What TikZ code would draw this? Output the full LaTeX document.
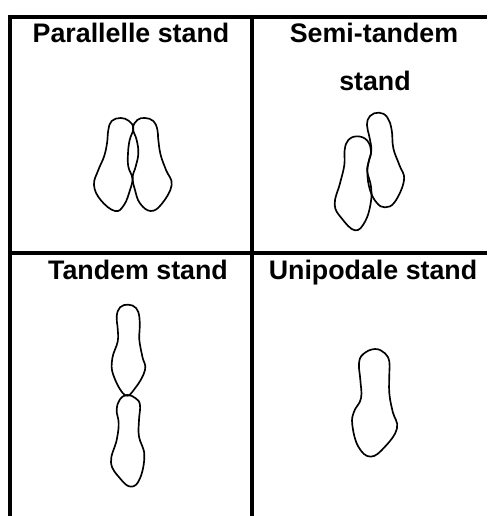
\documentclass[tikz,border=0pt]{standalone}
\usepackage{fontspec}
\setmainfont{Liberation Sans}
\tikzset{
  rule/.style={line width=3pt,black,line cap=butt},
  label/.style={anchor=base,inner sep=0pt,font=\fontsize{20.1pt}{22pt}\selectfont\bfseries},
  footline/.style={line width=1.25pt,black,line join=round},
  crop/.style 2 args={x=.25pt,y=-.25pt,shift={({#1*.75pt},{-#2*.75pt})}}
}
\begin{document}
\begin{tikzpicture}[x=.75pt,y=-.75pt]
\useasboundingbox (0,0) rectangle (487,516);
% table rules
\draw[rule] (8,17) -- (487,17);
\draw[rule] (8,253) -- (487,253);
\draw[rule] (10,15) -- (10,516);
\draw[rule] (252,15) -- (252,516);
% labels
\node[label] (t1) at (131,43) {Parallelle stand};
\node[label] (t2) at (374,43) {Semi-tandem};
\node[label] (t2b) at (375,91) {stand};
\node[label] (t3) at (138,279) {Tandem stand};
\node[label] (t4) at (373,279) {Unipodale stand};
% parallel stand
\begin{scope}[crop={60}{90}]
\draw[footline] plot[smooth cycle,tension=.7] coordinates {(182,84)(155,93)(145,120)(141,160)(132,200)(115,240)(102,285)(122,330)(165,363)(192,345)(210,300)(217,265)(205,230)(204,190)(209,150)(220,115)(207,93)};
\draw[footline] plot[smooth cycle,tension=.7] coordinates {(255,84)(232,90)(219,115)(230,150)(235,190)(227,230)(218,262)(225,300)(240,340)(272,363)(305,342)(335,285)(318,240)(302,195)(295,150)(292,118)(280,93)};
\end{scope}
% semi-tandem stand
\begin{scope}[crop={310}{90}]
\draw[footline] plot[smooth cycle,tension=.7] coordinates {(143,139)(115,150)(104,180)(103,225)(90,280)(74,343)(95,385)(135,421)(165,395)(182,340)(183,290)(172,245)(176,215)(183,185)(172,152)};
\draw[footline] plot[smooth cycle,tension=.7] coordinates {(207,68)(180,78)(171,105)(178,140)(184,180)(176,215)(172,250)(180,300)(200,338)(225,352)(255,335)(282,270)(268,225)(250,175)(245,120)(232,82)};
\end{scope}
% tandem stand
\begin{scope}[crop={70}{290}]
\draw[footline] plot[smooth cycle,tension=.7] coordinates {(175,44)(150,52)(140,80)(143,115)(143,155)(127,205)(130,255)(165,315)(195,295)(225,240)(217,200)(208,150)(209,115)(208,80)(198,54)};
\draw[footline] plot[smooth cycle,tension=.7] coordinates {(172,315)(150,328)(140,360)(146,400)(140,450)(123,517)(150,565)(183,590)(210,565)(223,495)(207,440)(207,390)(210,345)(197,325)};
\end{scope}
% unipodale stand
\begin{scope}[crop={330}{330}]
\draw[footline] plot[smooth cycle,tension=.7] coordinates {(135,57)(100,72)(87,100)(91,150)(93,205)(72,245)(67,285)(85,350)(122,380)(165,350)(201,295)(188,245)(178,190)(178,130)(178,95)(165,70)};
\end{scope}
\end{tikzpicture}
\end{document}
